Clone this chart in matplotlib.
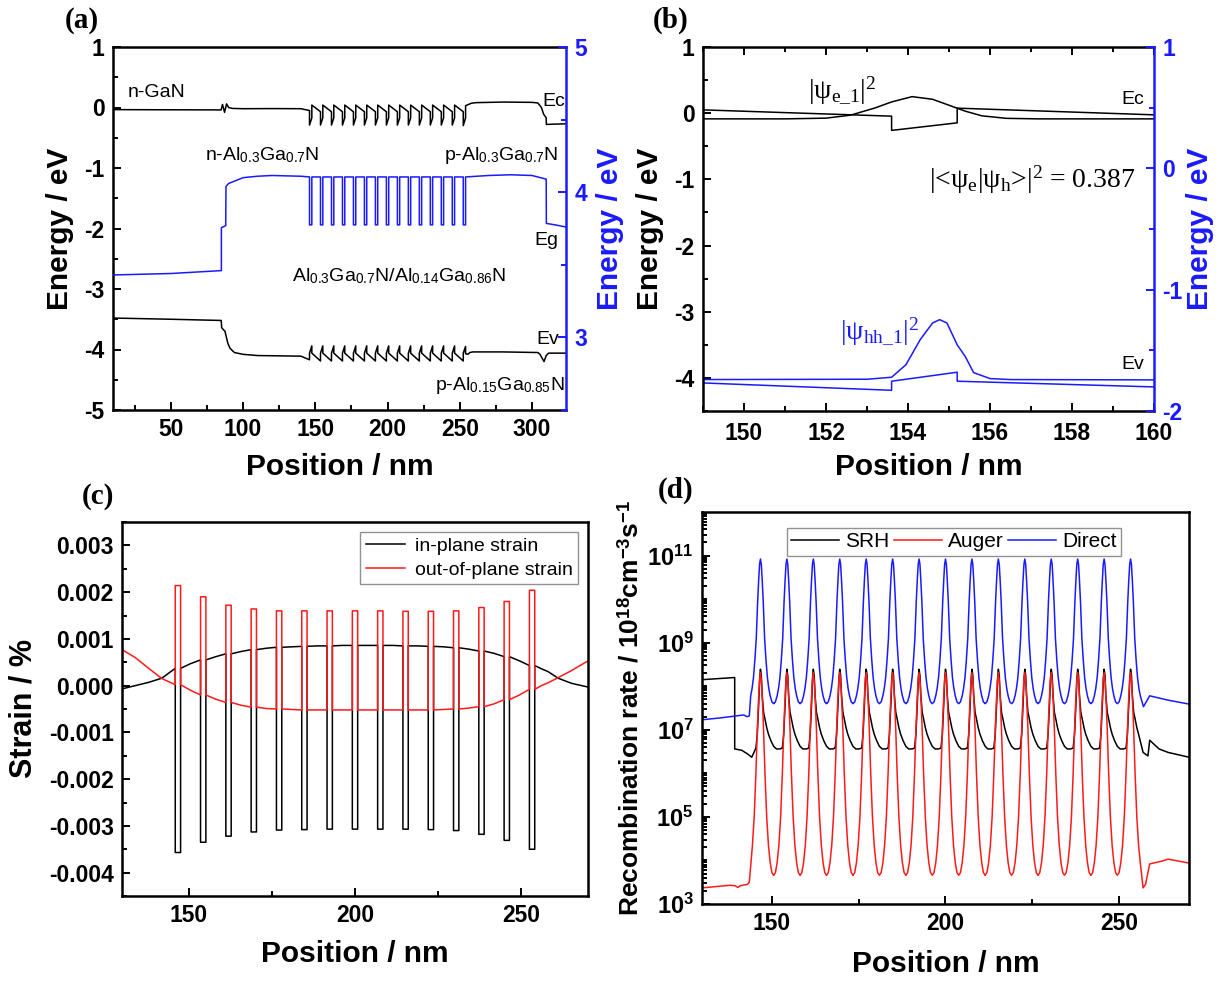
import numpy as np
import matplotlib
matplotlib.use('Agg')
import matplotlib.pyplot as plt
from matplotlib.ticker import MultipleLocator, FixedLocator, FuncFormatter, FormatStrFormatter

plt.rcParams['font.family'] = ['Liberation Sans', 'DejaVu Sans']
plt.rcParams['font.weight'] = 'bold'
plt.rcParams['axes.labelweight'] = 'bold'
plt.rcParams['axes.unicode_minus'] = False
plt.rcParams['mathtext.fontset'] = 'custom'
plt.rcParams['mathtext.rm'] = 'Liberation Serif:normal'
plt.rcParams['mathtext.it'] = 'Liberation Serif:italic:normal'
plt.rcParams['mathtext.bf'] = 'Liberation Sans:bold'
plt.rcParams['mathtext.sf'] = 'Liberation Sans:normal'

# ---------------- common: quantum-well centres (nm) and half width ----------------
wells = [146.8, 154.4, 162.0, 169.6, 177.2, 184.8, 192.4, 200.0, 207.6, 215.2,
         222.8, 230.4, 238.0, 245.6, 253.2]
well_half = 0.8

# ---------------- (a) band diagram ----------------
a_ec_pre_x = [10, 50, 84.8, 85.8, 87.2, 88.6, 90.0, 92.5, 100, 120, 140]
a_ec_pre_y = [-0.035, -0.038, -0.04, 0.05, -0.08, 0.06, 0.0, -0.015, -0.02, -0.018, -0.02]
a_ec_bar_before = [-0.05, -0.07, -0.07, -0.07, -0.07, -0.07, -0.07, -0.07, -0.07, -0.07, -0.07, -0.07, -0.07, -0.07, -0.07]
a_ec_well_left = [-0.29, -0.29, -0.29, -0.29, -0.29, -0.29, -0.29, -0.29, -0.29, -0.29, -0.29, -0.29, -0.29, -0.29, -0.30]
a_ec_well_right = [-0.17, -0.17, -0.17, -0.17, -0.17, -0.17, -0.17, -0.17, -0.17, -0.17, -0.17, -0.17, -0.17, -0.17, -0.17]
a_ec_bar_after = [0.04, 0.04, 0.04, 0.04, 0.04, 0.04, 0.04, 0.04, 0.04, 0.04, 0.04, 0.04, 0.04, 0.04, 0.03]
a_ec_post_x = [256, 258, 261, 280, 300, 304, 306.5, 308, 309.8, 309.9, 315, 323.5]
a_ec_post_y = [0.05, 0.07, 0.08, 0.09, 0.085, 0.075, 0.0, -0.11, -0.17, -0.28, -0.275, -0.27]

a_ev_pre_x = [10, 50, 84.9, 85.2, 87.5, 88.5, 89.5, 91, 94, 100, 110, 140]
a_ev_pre_y = [-3.48, -3.5, -3.52, -3.64, -3.7, -3.8, -3.9, -3.98, -4.05, -4.08, -4.1, -4.11]
a_ev_bar_before = [-4.17, -4.19, -4.19, -4.19, -4.19, -4.19, -4.19, -4.19, -4.19, -4.19, -4.19, -4.19, -4.19, -4.19, -4.19]
a_ev_well_left = [-4.06, -4.06, -4.06, -4.06, -4.06, -4.06, -4.06, -4.06, -4.06, -4.06, -4.06, -4.06, -4.06, -4.06, -4.06]
a_ev_well_right = [-3.94, -3.94, -3.94, -3.94, -3.94, -3.94, -3.94, -3.94, -3.94, -3.94, -3.94, -3.94, -3.94, -3.94, -3.95]
a_ev_bar_after = [-4.06, -4.06, -4.06, -4.06, -4.06, -4.06, -4.06, -4.06, -4.06, -4.06, -4.06, -4.06, -4.06, -4.06, -4.07]
a_ev_post_x = [255.5, 257, 259, 280, 304, 305.5, 308.3, 309.8, 311.5, 323.5]
a_ev_post_y = [-4.08, -4.05, -4.04, -4.04, -4.05, -4.08, -4.2, -4.1, -4.06, -4.06]

a_eg_pre_x = [10, 50, 85.0, 85.0, 88.0, 88.2, 90, 95, 100, 110, 120, 140]
a_eg_pre_y = [3.43, 3.44, 3.46, 3.755, 3.77, 4.04, 4.06, 4.08, 4.10, 4.11, 4.115, 4.11]
a_eg_barrier = [4.105, 4.105, 4.105, 4.105, 4.105, 4.105, 4.105, 4.105, 4.105, 4.105, 4.105, 4.105, 4.105, 4.105, 4.105]
a_eg_well = [3.775, 3.775, 3.775, 3.775, 3.775, 3.775, 3.775, 3.775, 3.775, 3.775, 3.775, 3.775, 3.775, 3.775, 3.775]
a_eg_post_x = [270, 285, 300, 309.8, 309.9, 316, 323.5]
a_eg_post_y = [4.115, 4.12, 4.115, 4.09, 3.785, 3.775, 3.76]

# ---------------- (b) zoom on the second well ----------------
b_ec_x = [149, 153.6, 153.6, 155.2, 155.2, 160]
b_ec_y = [0.05, -0.045, -0.26, -0.146, 0.076, -0.025]
b_psi_e_x = [149, 151, 152, 152.6, 153.2, 153.6, 154.1, 154.6, 155.0, 155.4, 155.8, 156.4, 157.2, 160]
b_psi_e_y = [-0.086, -0.086, -0.075, -0.03, 0.08, 0.17, 0.25, 0.21, 0.12, 0.03, -0.04, -0.078, -0.086, -0.086]
b_ev_x = [149, 153.6, 153.6, 155.2, 155.2, 160]
b_ev_y = [-4.076, -4.187, -4.05, -3.914, -4.05, -4.136]
b_psi_h_x = [149, 153.0, 153.6, 153.95, 154.3, 154.6, 154.77, 154.95, 155.2, 155.4, 155.6, 156.0, 156.5, 160]
b_psi_h_y = [-4.025, -4.02, -3.99, -3.8, -3.42, -3.17, -3.12, -3.17, -3.5, -3.68, -3.92, -4.01, -4.025, -4.03]

# ---------------- (c) strain ----------------
c_in_pre_x = [130, 134, 138, 142]
c_in_pre_y = [-0.00007, 0.0, 0.00007, 0.00016]
c_in_barrier = [0.00037, 0.00055, 0.00068, 0.00077, 0.00082, 0.00084, 0.00085, 0.00086,
                0.00086, 0.00085, 0.00084, 0.00081, 0.00074, 0.00062, 0.00043]
c_in_mid = [0.00047, 0.00062, 0.00073, 0.0008, 0.00083, 0.00085, 0.00086, 0.00086,
            0.00086, 0.00085, 0.00083, 0.00078, 0.00069, 0.00053]
c_in_well = [-0.00357, -0.00335, -0.00322, -0.00313, -0.00309, -0.00308, -0.00307, -0.00307,
             -0.00307, -0.00307, -0.00308, -0.0031, -0.00318, -0.00331, -0.0035]
c_in_post_x = [256, 258, 261, 265, 270]
c_in_post_y = [0.00036, 0.0003, 0.00016, 0.00005, -0.00003]

c_out_pre_x = [130, 134, 138, 142]
c_out_pre_y = [0.00077, 0.0006, 0.00037, 0.00015]
c_out_barrier = [0.00002, -0.0002, -0.00036, -0.00046, -0.0005, -0.00052, -0.00052, -0.00052,
                 -0.00052, -0.00052, -0.00052, -0.0005, -0.00045, -0.0003, -0.00008]
c_out_mid = [-0.0001, -0.00029, -0.00042, -0.00049, -0.00051, -0.00052, -0.00052, -0.00052,
             -0.00052, -0.00052, -0.00051, -0.00048, -0.00039, -0.0002]
c_out_well = [0.00214, 0.0019, 0.00172, 0.00164, 0.0016, 0.0016, 0.0016, 0.0016,
              0.0016, 0.00159, 0.00159, 0.0016, 0.00167, 0.0018, 0.00204]
c_out_post_x = [256, 258, 261, 265, 270]
c_out_post_y = [0.0, 0.00006, 0.00017, 0.00032, 0.00053]

# ---------------- (d) recombination rates (log10 values) ----------------
d_dir_pre_x = [130, 135, 139, 142, 143, 143.6]
d_dir_pre_y = [7.23, 7.27, 7.31, 7.34, 7.3, 7.32]
d_dir_dx = [-3.8, -3.3, -2.8, -2.4, -2.0, -1.6, -1.2, -0.8, -0.5, -0.25, 0.0,
            0.25, 0.5, 0.8, 1.2, 1.6, 2.0, 2.4, 2.8, 3.3, 3.8]
d_dir_y = [7.6, 7.64, 7.78, 7.95, 8.2, 8.6, 9.1, 9.95, 10.45, 10.8, 10.92,
           10.8, 10.45, 9.95, 9.1, 8.6, 8.2, 7.95, 7.78, 7.64, 7.6]
d_dir_post_x = [256.9, 258.7, 264, 270]
d_dir_post_y = [7.53, 7.78, 7.68, 7.59]

d_aug_pre_x = [130, 134, 138, 139.5, 140.3, 141, 143, 143.6]
d_aug_pre_y = [3.37, 3.4, 3.43, 3.42, 3.38, 3.42, 3.45, 3.5]
d_aug_dx = [-3.8, -3.3, -2.8, -2.3, -1.8, -1.3, -0.9, -0.6, -0.3, 0.0,
            0.3, 0.6, 0.9, 1.3, 1.8, 2.3, 2.8, 3.3, 3.8]
d_aug_y = [3.66, 3.72, 3.95, 4.35, 5.0, 6.0, 7.0, 7.6, 8.1, 8.31,
           8.1, 7.6, 7.0, 6.0, 5.0, 4.35, 3.95, 3.72, 3.66]
d_aug_post_x = [256.8, 257.5, 258.7, 262, 264, 270]
d_aug_post_y = [3.37, 3.45, 3.92, 3.98, 4.03, 3.94]

d_srh_pre_x = [130, 139.4, 139.4, 141.4, 143, 144.3]
d_srh_pre_y = [8.15, 8.2, 6.56, 6.53, 6.45, 6.37]
d_srh_dx = [-1.3, -0.9, -0.5, -0.2, 0.0, 0.25, 0.5, 0.9, 1.3, 1.8, 2.3, 3.0, 3.8, 4.6, 5.6, 6.3]
d_srh_y = [6.58, 6.9, 7.6, 8.2, 8.39, 8.25, 7.8, 7.4, 7.25, 7.05, 6.9, 6.75, 6.62, 6.56, 6.56, 6.58]
d_srh_post_x = [256.8, 258.2, 258.7, 261.4, 264, 270]
d_srh_post_y = [6.48, 6.4, 6.76, 6.56, 6.48, 6.37]


def well_series(pre_x, pre_y, b_before, w_left, w_right, b_after, mids, post_x, post_y):
    xs, ys = list(pre_x), list(pre_y)
    for k, c in enumerate(wells):
        L, R = c - well_half, c + well_half
        xs += [L, L, R, R]
        ys += [b_before[k], w_left[k], w_right[k], b_after[k]]
        if mids is not None and k < len(mids):
            xs.append(0.5 * (c + wells[k + 1]))
            ys.append(mids[k])
    xs += list(post_x)
    ys += list(post_y)
    return np.array(xs), np.array(ys)


def tiled_series(pre_x, pre_y, dx, vals, first_from, last_to, post_x, post_y):
    xs, ys = list(pre_x), list(pre_y)
    n = len(wells)
    for k, c in enumerate(wells):
        for d, v in zip(dx, vals):
            if k == 0 and d < first_from:
                continue
            if k == n - 1 and d > last_to:
                continue
            xs.append(c + d)
            ys.append(v)
    xs += list(post_x)
    ys += list(post_y)
    return np.array(xs), 10.0 ** np.array(ys)


fig = plt.figure(figsize=(12.2, 9.81), dpi=100)
BLUE = '#1a1aff'
RED = '#ff1a1a'
LW = 1.1
TICK_FS = 16.5
LAB_FS = 21.5
SPW = 1.8


def style(ax, top=False):
    ax.tick_params(which='both', direction='in', top=top, right=False, labelsize=TICK_FS,
                   width=1.4, pad=6)
    ax.tick_params(which='major', length=6)
    ax.tick_params(which='minor', length=3.5)
    for s in ax.spines.values():
        s.set_linewidth(SPW)


def style_right(ax2, ax):
    ax2.tick_params(which='both', direction='in', colors=BLUE, labelsize=TICK_FS, width=1.4, pad=6)
    ax2.tick_params(which='major', length=6)
    ax2.tick_params(which='minor', length=3.5)
    for nm in ['left', 'top', 'bottom']:
        ax2.spines[nm].set_visible(False)
    ax2.spines['right'].set_color(BLUE)
    ax2.spines['right'].set_linewidth(SPW)
    ax.spines['right'].set_visible(False)


# ----- panel (a) -----
axa = fig.add_axes([113 / 1220, 1 - 410 / 981, 453 / 1220, 363 / 981])
axa2 = axa.twinx()
x, y = well_series(a_ec_pre_x, a_ec_pre_y, a_ec_bar_before, a_ec_well_left, a_ec_well_right,
                   a_ec_bar_after, None, a_ec_post_x, a_ec_post_y)
axa.plot(x, y, color='black', lw=LW)
x, y = well_series(a_ev_pre_x, a_ev_pre_y, a_ev_bar_before, a_ev_well_left, a_ev_well_right,
                   a_ev_bar_after, None, a_ev_post_x, a_ev_post_y)
axa.plot(x, y, color='black', lw=LW)
x, y = well_series(a_eg_pre_x, a_eg_pre_y, a_eg_barrier, a_eg_well, a_eg_well,
                   a_eg_barrier, None, a_eg_post_x, a_eg_post_y)
axa2.plot(x, y, color=BLUE, lw=LW)
axa.set_xlim(10, 323.5)
axa.set_ylim(-5, 1)
axa2.set_ylim(2.5, 5)
style(axa)
style_right(axa2, axa)
axa.xaxis.set_major_locator(MultipleLocator(50))
axa.xaxis.set_minor_locator(MultipleLocator(25))
axa.yaxis.set_major_locator(MultipleLocator(1))
axa.yaxis.set_minor_locator(MultipleLocator(0.5))
axa2.yaxis.set_major_locator(MultipleLocator(1))
axa2.yaxis.set_minor_locator(MultipleLocator(0.5))
axa.set_xlabel('Position / nm', fontsize=LAB_FS)
axa.xaxis.set_label_coords(0.5, -0.118)
axa.set_ylabel('Energy / eV', fontsize=LAB_FS)
axa.yaxis.set_label_coords(-0.086, 0.5)
axa2.set_ylabel('Energy / eV', fontsize=LAB_FS, color=BLUE)
axa2.yaxis.set_label_coords(1.066, 0.5)
AFS = 14
kw = dict(fontsize=AFS, fontweight='normal', va='center')
axa.text(20, 0.25, 'n-GaN', ha='left', **kw)
axa.text(323, 0.1, 'Ec', ha='right', **kw)
axa.text(74, -0.78, r'n-Al$_{\mathsf{0.3}}$Ga$_{\mathsf{0.7}}$N', ha='left', **kw)
axa.text(239, -0.8, r'p-Al$_{\mathsf{0.3}}$Ga$_{\mathsf{0.7}}$N', ha='left', **kw)
axa.text(318.5, -2.2, 'Eg', ha='right', **kw)
axa.text(134, -2.79, r'Al$_{\mathsf{0.3}}$Ga$_{\mathsf{0.7}}$N/Al$_{\mathsf{0.14}}$Ga$_{\mathsf{0.86}}$N', ha='left', **kw)
axa.text(319, -3.84, 'Ev', ha='right', **kw)
axa.text(322.5, -4.59, r'p-Al$_{\mathsf{0.15}}$Ga$_{\mathsf{0.85}}$N', ha='right', **kw)

# ----- panel (b) -----
axb = fig.add_axes([703 / 1220, 1 - 411 / 981, 451 / 1220, 364 / 981])
axb2 = axb.twinx()
axb.plot(b_ec_x, b_ec_y, color='black', lw=LW)
axb.plot(b_psi_e_x, b_psi_e_y, color='black', lw=LW)
axb.plot(b_ev_x, b_ev_y, color=BLUE, lw=LW)
axb.plot(b_psi_h_x, b_psi_h_y, color=BLUE, lw=LW)
axb.set_xlim(149, 160)
axb.set_ylim(-4.5, 1)
axb2.set_ylim(-2, 1)
style(axb, top=True)
style_right(axb2, axb)
axb.tick_params(axis='x', pad=8)
axb.xaxis.set_major_locator(MultipleLocator(2))
axb.xaxis.set_minor_locator(MultipleLocator(1))
axb.yaxis.set_major_locator(MultipleLocator(1))
axb.yaxis.set_minor_locator(MultipleLocator(0.5))
axb2.yaxis.set_major_locator(MultipleLocator(1))
axb2.yaxis.set_minor_locator(MultipleLocator(0.5))
axb.set_xlabel('Position / nm', fontsize=LAB_FS)
axb.xaxis.set_label_coords(0.5, -0.115)
axb.set_ylabel('Energy / eV', fontsize=LAB_FS)
axb.yaxis.set_label_coords(-0.086, 0.5)
axb2.set_ylabel('Energy / eV', fontsize=LAB_FS, color=BLUE)
axb2.yaxis.set_label_coords(1.07, 0.5)
BFS = 20
SER = dict(fontsize=BFS, fontweight='normal', family='Liberation Serif', va='center', ha='left')
axb.text(151.55, 0.35, r'|ψ$_{\mathrm{e\_1}}$|$^{\mathrm{2}}$', **SER)
axb.text(154.5, -1.0, r'|<ψ$_{\mathrm{e}}$|ψ$_{\mathrm{h}}$>|$^{\mathrm{2}}$ = 0.387', **SER)
axb.text(152.35, -3.3, r'|ψ$_{\mathrm{hh\_1}}$|$^{\mathrm{2}}$', color=BLUE, **SER)
axb.text(159.75, 0.2, 'Ec', fontsize=AFS, fontweight='normal', ha='right', va='center')
axb.text(159.75, -3.8, 'Ev', fontsize=AFS, fontweight='normal', ha='right', va='center')

# ----- panel (c) -----
axc = fig.add_axes([122 / 1220, 1 - 896 / 981, 466 / 1220, 374 / 981])
x, y = well_series(c_in_pre_x, c_in_pre_y, c_in_barrier, c_in_well, c_in_well, c_in_barrier,
                   c_in_mid, c_in_post_x, c_in_post_y)
axc.plot(x, y, color='black', lw=LW, label='in-plane strain')
x, y = well_series(c_out_pre_x, c_out_pre_y, c_out_barrier, c_out_well, c_out_well, c_out_barrier,
                   c_out_mid, c_out_post_x, c_out_post_y)
axc.plot(x, y, color=RED, lw=LW, label='out-of-plane strain')
axc.set_xlim(130, 270)
axc.set_ylim(-0.0045, 0.0035)
style(axc)
axc.xaxis.set_major_locator(MultipleLocator(50))
axc.xaxis.set_minor_locator(MultipleLocator(25))
axc.yaxis.set_major_locator(MultipleLocator(0.001))
axc.yaxis.set_minor_locator(MultipleLocator(0.0005))
axc.yaxis.set_major_formatter(FormatStrFormatter('%.3f'))
axc.set_xlabel('Position / nm', fontsize=LAB_FS)
axc.xaxis.set_label_coords(0.5, -0.118)
axc.set_ylabel('Strain / %', fontsize=22)
axc.yaxis.set_label_coords(-0.18, 0.5)
legc = axc.legend(loc='upper right', prop={'size': 14, 'weight': 'normal'}, frameon=True,
                  fancybox=False, edgecolor='#777777', borderaxespad=0.5, handlelength=2.0,
                  handletextpad=0.5, borderpad=0.3, labelspacing=0.3)
legc.get_frame().set_linewidth(1.0)

# ----- panel (d) -----
axd = fig.add_axes([702 / 1220, 1 - 904 / 981, 487 / 1220, 392 / 981])
x, y = tiled_series(d_srh_pre_x, d_srh_pre_y, d_srh_dx, d_srh_y, -1.3, 2.3, d_srh_post_x, d_srh_post_y)
axd.plot(x, y, color='black', lw=LW, label='SRH')
x, y = tiled_series(d_aug_pre_x, d_aug_pre_y, d_aug_dx, d_aug_y, -2.3, 2.8, d_aug_post_x, d_aug_post_y)
axd.plot(x, y, color=RED, lw=LW, label='Auger')
x, y = tiled_series(d_dir_pre_x, d_dir_pre_y, d_dir_dx, d_dir_y, -2.8, 3.3, d_dir_post_x, d_dir_post_y)
axd.plot(x, y, color=BLUE, lw=LW, label='Direct')
axd.set_yscale('log')
axd.set_xlim(130, 270)
axd.set_ylim(1e3, 1e12)
style(axd)
axd.xaxis.set_major_locator(MultipleLocator(50))
axd.xaxis.set_minor_locator(MultipleLocator(25))
axd.yaxis.set_major_locator(FixedLocator([1e3, 1e5, 1e7, 1e9, 1e11]))
minors = [m * 10.0 ** e for e in range(3, 12) for m in range(1, 10) if not (m == 1 and e % 2 == 1)]
axd.yaxis.set_minor_locator(FixedLocator(minors))
axd.yaxis.set_major_formatter(FuncFormatter(lambda v, p: r'$\mathbf{10^{%d}}$' % round(np.log10(v))))
axd.yaxis.set_minor_formatter(FuncFormatter(lambda v, p: ''))
axd.tick_params(axis='y', which='major', labelsize=17)
axd.set_xlabel('Position / nm', fontsize=LAB_FS)
axd.xaxis.set_label_coords(0.5, -0.117)
axd.set_ylabel(r'Recombination rate / 10$^{\mathbf{18}}$cm$^{\mathbf{-3}}$s$^{\mathbf{-1}}$', fontsize=19)
axd.yaxis.set_label_coords(-0.121, 0.5)
legd = axd.legend(loc='upper center', bbox_to_anchor=(0.517, 0.985), ncol=3,
                  prop={'size': 15, 'weight': 'normal'}, frameon=True, fancybox=False,
                  edgecolor='#777777', handlelength=2.3, handletextpad=0.3, columnspacing=0.2,
                  borderpad=0.2)
legd.get_frame().set_linewidth(1.0)

# panel letters
PL = dict(fontsize=21, fontweight='bold', family='Liberation Serif', ha='center', va='center')
fig.text(82 / 1220, 1 - 20 / 981, '(a)', **PL)
fig.text(671 / 1220, 1 - 20 / 981, '(b)', **PL)
fig.text(98 / 1220, 1 - 497 / 981, '(c)', **PL)
fig.text(676 / 1220, 1 - 490 / 981, '(d)', **PL)

fig.savefig('out.png', dpi=100)
